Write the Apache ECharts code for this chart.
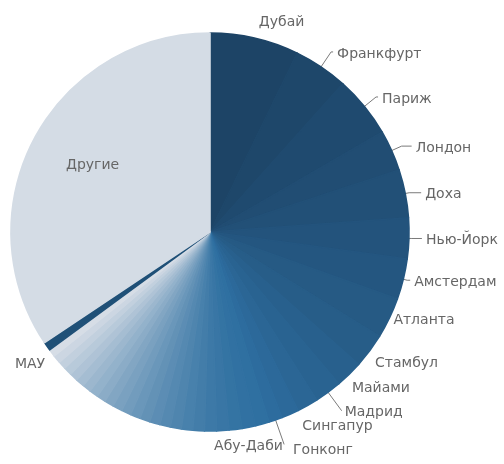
<!DOCTYPE html>
<html>
<head>
<meta charset="utf-8">
<script src="https://cdn.jsdelivr.net/npm/echarts@6/dist/echarts.min.js"></script>
<style>
  html, body { margin: 0; padding: 0; background: #ffffff; }
  #chart { width: 504px; height: 464px; }
</style>
</head>
<body>
<div id="chart"></div>
<script>
// Named destinations, shares in percent
const cities = ['Дубай', 'Франкфурт', 'Париж', 'Лондон', 'Доха', 'Нью-Йорк', 'Амстердам',
  'Атланта', 'Стамбул', 'Майами', 'Мадрид', 'Сингапур', 'Гонконг', 'Абу-Даби'];
const cityShares = [7.2, 4.4, 5.0, 3.3, 3.9, 3.3, 3.3, 3.3, 2.8, 2.2, 2.2, 1.7, 1.4, 1.1];

// Smaller destinations without captions
const minorShares = [1.1, 1.1, 1.05, 1.0, 0.97, 0.94, 0.92, 0.89, 0.86, 0.83, 0.83, 0.81,
  0.78, 0.78, 0.75, 0.72, 0.72, 0.69, 0.69, 0.67, 0.67, 0.64, 0.64, 0.61];

const mauName = 'МАУ';
const mauShare = 0.7;
const otherName = 'Другие';
const otherShare = 34.3;

// Leader line geometry for each caption: [length, length2, gap to text, line visible]
const leader = {
  'Дубай':     [18, 0, 0, false],
  'Франкфурт': [18, 2, 4, true],
  'Париж':     [15, 2, 4, true],
  'Лондон':    [11, 10, 4, true],
  'Доха':      [4, 12, 4, true],
  'Нью-Йорк':  [3, 10, 4, true],
  'Амстердам': [4, 3, 4, true],
  'Атланта':   [0, 0, 4, false],
  'Стамбул':   [18, 0, -9, false],
  'Майами':    [17, 0, -9, false],
  'Мадрид':    [23, 0, 3, true],
  'Сингапур':  [22, 0, -16, false],
  'Гонконг':   [37, 0, -12, false],
  'Абу-Даби':  [26, 0, -70, true],
  'МАУ':       [28, 0, -21, false]
};

// colour ramps
function hex(c) { return [parseInt(c.slice(1,3),16), parseInt(c.slice(3,5),16), parseInt(c.slice(5,7),16)]; }
function mix(a, b, t) {
  const A = hex(a), B = hex(b);
  return 'rgb(' + A.map((v, i) => Math.round(v + (B[i] - v) * t)).join(',') + ')';
}
const cityFrom = '#1d4466', cityTo = '#2d6c9e';
const minorFrom = '#2f70a1', minorTo = '#d6dde6';
const mauColor = '#1f5077';
const otherColor = '#d4dce5';
const textColor = '#666666';

function captioned(name, value, color) {
  const g = leader[name];
  return {
    name: name, value: value,
    itemStyle: { color: color, borderColor: color },
    label: { distanceToLabelLine: g[2] },
    labelLine: { show: g[3], length: g[0], length2: g[1] }
  };
}

const data = [];
cities.forEach((name, i) => {
  data.push(captioned(name, cityShares[i], mix(cityFrom, cityTo, i / (cities.length - 1))));
});
minorShares.forEach((v, i) => {
  // keeps the first few close to the blue, then fades towards grey
  const t = Math.pow(i / (minorShares.length - 1), 1.4);
  const c = mix(minorFrom, minorTo, t);
  data.push({ name: '', value: v, itemStyle: { color: c, borderColor: c },
    label: { show: false }, labelLine: { show: false } });
});
data.push(captioned(mauName, mauShare, mauColor));
data.push({ name: otherName, value: otherShare,
  itemStyle: { color: otherColor, borderColor: otherColor },
  label: { position: 'inside', formatter: '{b}\n ', lineHeight: 40, padding: [0, 54, 0, 0] },
  labelLine: { show: false } });

const chart = echarts.init(document.getElementById('chart'), null, { renderer: 'canvas' });
chart.setOption({
  animation: false,
  series: [{
    type: 'pie',
    center: [210, 232],
    radius: [0, 199],
    startAngle: 90,
    clockwise: true,
    avoidLabelOverlap: false,
    itemStyle: { borderWidth: 1.6, borderJoin: 'round' },
    label: {
      show: true,
      color: textColor,
      fontFamily: 'DejaVu Sans, Liberation Sans, sans-serif',
      fontSize: 14,
      offset: [0, 2],
      overflow: 'none',
      formatter: '{b}'
    },
    labelLine: {
      show: true,
      lineStyle: { color: '#7a7a7a', width: 1 }
    },
    emphasis: { disabled: true },
    data: data
  }]
});
</script>
</body>
</html>
